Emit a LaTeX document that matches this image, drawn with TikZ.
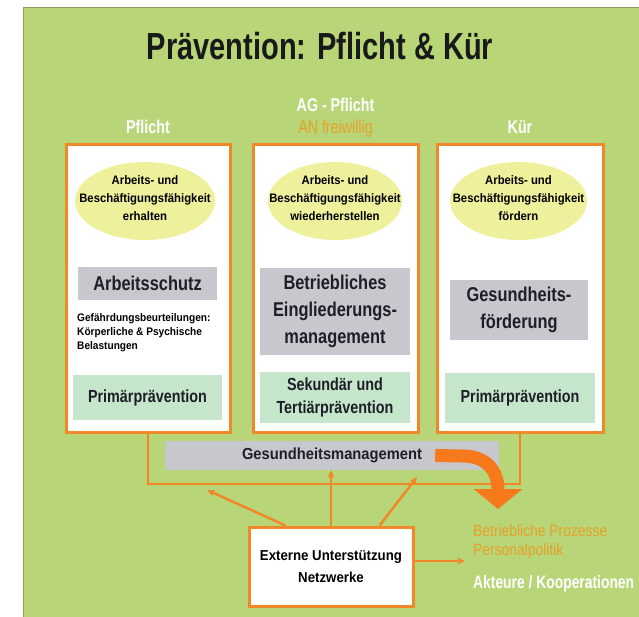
\documentclass[tikz,border=0pt]{standalone}
\usepackage{fontspec}
\setmainfont{Liberation Sans}
\newfontfamily\fT[FakeStretch=0.77]{Liberation Sans}
\newfontfamily\fR[FakeStretch=0.84]{Liberation Sans}
\newfontfamily\fB[FakeStretch=0.82]{Liberation Sans}
\newfontfamily\fS[FakeStretch=0.92]{Liberation Sans}
\usetikzlibrary{shapes.geometric,arrows.meta}
\definecolor{panelgreen}{RGB}{184,214,120}
\definecolor{panelline}{RGB}{150,150,95}
\definecolor{orng}{RGB}{240,135,40}
\definecolor{bigorng}{RGB}{246,122,28}
\definecolor{ellfill}{RGB}{238,240,155}
\definecolor{grayfill}{RGB}{198,200,206}
\definecolor{mintfill}{RGB}{198,230,204}
\definecolor{headorange}{RGB}{232,160,40}
\definecolor{txtdark}{RGB}{30,30,40}
\newcommand\fsz[2]{\fontsize{#1}{#2}\selectfont}
\begin{document}
\begin{tikzpicture}[x=1pt,y=-1pt,
  colbox/.style={draw=orng,line width=3pt,fill=white,inner sep=0pt,minimum height=287pt},
  goalell/.style={ellipse,fill=ellfill,inner sep=0pt,minimum height=78pt},
  goaltxt/.style={inner sep=0pt,align=center,font=\fS\bfseries\fsz{12.3}{18}},
  graybox/.style={fill=grayfill,inner sep=0pt,align=center,text=txtdark,font=\fB\bfseries\fsz{20}{27}},
  mintbox/.style={fill=mintfill,inner sep=0pt,align=center,text=txtdark,font=\fB\bfseries\fsz{17.5}{23}},
  headtxt/.style={font=\fT\bfseries\fsz{18.5}{20},text=white,anchor=base,inner sep=0pt},
  conn/.style={draw=orng,line width=2.5pt,-{Stealth[length=8pt,width=7pt]}}
]
\useasboundingbox (0,0) rectangle (639,617);
\fill[white] (0,0) rectangle (639,617);
\fill[panelgreen] (23,8) rectangle (639,617);
\draw[panelline,line width=1pt] (23,617) -- (23,8) -- (639,8);

% title and headers
\node[font=\fT\bfseries\fsz{37.7}{40},anchor=base,inner sep=0pt,text=black!90] (title) at (320,60) {Prävention: Pflicht \& Kür};
\node[headtxt] (h1) at (148,134) {Pflicht};
\node[headtxt] (h2a) at (335.5,112) {AG - Pflicht};
\node[headtxt,font=\fT\fsz{18.5}{20},text=headorange] (h2b) at (335.5,134) {AN freiwillig};
\node[headtxt] (h3) at (520,134) {Kür};

% column boxes
\node[colbox,minimum width=164pt] (b1) at (148,288.5) {};
\node[colbox,minimum width=165pt] (b2) at (335.5,288.5) {};
\node[colbox,minimum width=166pt] (b3) at (520,288.5) {};

% goals
\node[goalell,minimum width=140pt] (e1) at (145,201) {};
\node[goalell,minimum width=134pt] (e2) at (335,201) {};
\node[goalell,minimum width=137pt] (e3) at (518.5,201) {};
\node[goaltxt] (t1) at ([yshift=3pt]e1.center) {Arbeits- und\\Beschäftigungsfähigkeit\\erhalten};
\node[goaltxt] (t2) at ([yshift=3pt]e2.center) {Arbeits- und\\Beschäftigungsfähigkeit\\wiederherstellen};
\node[goaltxt] (t3) at ([yshift=3pt]e3.center) {Arbeits- und\\Beschäftigungsfähigkeit\\fördern};

% gray boxes
\node[graybox,minimum width=139pt,minimum height=33pt] (g1) at (147.5,283.5) {Arbeitsschutz};
\node[graybox,minimum width=150pt,minimum height=87pt] (g2) at (335,311.5) {Betriebliches\\Eingliederungs-\\management};
\node[graybox,minimum width=138pt,minimum height=60pt] (g3) at (519,310) {Gesundheits-\\förderung};

\node[anchor=north west,inner sep=0pt,align=left,font=\fS\bfseries\fsz{11}{14}] (gb) at (77,313) {Gefährdungsbeurteilungen:\\Körperliche \& Psychische\\Belastungen};

% mint boxes
\node[mintbox,minimum width=149pt,minimum height=45pt] (p1) at (147.5,397.5) {Primärprävention};
\node[mintbox,minimum width=150pt,minimum height=51pt] (p2) at (335,397.5) {Sekundär und\\Tertiärprävention};
\node[mintbox,minimum width=150pt,minimum height=50pt] (p3) at (520,398) {Primärprävention};

% bracket
\draw[orng,line width=2pt] (b1.south) -- ++(0,50) -| (b3.south);

% management band
\node[fill=grayfill,minimum width=334pt,minimum height=29pt,inner sep=0pt,font=\fS\bfseries\fsz{16}{18},text=txtdark] (gm) at (332,455.5) {Gesundheitsmanagement};

% external support
\node[draw=orng,line width=3pt,fill=white,minimum width=164pt,minimum height=79pt,inner sep=0pt,align=center,font=\fS\bfseries\fsz{14.4}{22}] (ext) at (331,566.5) {Externe Unterstützung\\Netzwerke};

\coordinate (la) at (207,490);
\coordinate (ra) at (417,477);
\coordinate (ha) at (465,561);
\draw[conn] ([xshift=38pt]ext.north west) -- (la);
\draw[conn] (ext.north) -- (ext.north |- gm.south);
\draw[conn] ([xshift=-35pt]ext.north east) -- (ra);
\draw[conn] (ext.east |- ha) -- (ha);

% big curved arrow
\draw[bigorng,line width=13pt,-{Triangle[width=48pt,length=20pt]}] ([xshift=-64pt]gm.east) -- (462,456) .. controls (488,456) and (498,472) .. (498,509);

% right texts
\node[anchor=base west,inner sep=0pt,font=\fR\fsz{16.5}{18},text=headorange] (bp) at (473,536) {Betriebliche Prozesse};
\node[anchor=base west,inner sep=0pt,font=\fR\fsz{16.5}{18},text=headorange] (pp) at (473,555) {Personalpolitik};
\node[anchor=base west,inner sep=0pt,font=\fT\bfseries\fsz{18}{20},text=white] (ak) at (473,588) {Akteure / Kooperationen};
\end{tikzpicture}
\end{document}
